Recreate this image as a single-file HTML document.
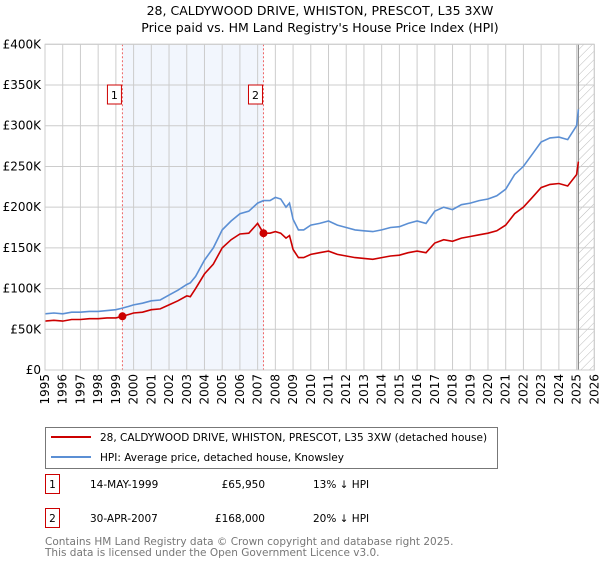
<!DOCTYPE html>
<html><head><meta charset="utf-8"><style>
body{margin:0;background:#fff;font-family:"DejaVu Sans","Liberation Sans",sans-serif;}
svg text{font-family:"DejaVu Sans","Liberation Sans",sans-serif;}
</style></head><body>
<svg id="c" width="600" height="560" viewBox="0 0 600 560" xmlns="http://www.w3.org/2000/svg">
<text x="320" y="15" font-size="12.5" text-anchor="middle" fill="#000">28, CALDYWOOD DRIVE, WHISTON, PRESCOT, L35 3XW</text>
<text x="320" y="32" font-size="12.5" text-anchor="middle" fill="#000">Price paid vs. HM Land Registry's House Price Index (HPI)</text>
<g id="plot"></g>
<g>
<rect x="45.5" y="427.5" width="452" height="41" fill="#fff" stroke="#777" stroke-width="1"/>
<line x1="51" y1="437" x2="91" y2="437" stroke="#cc0000" stroke-width="2"/>
<text x="100" y="441" font-size="10.5">28, CALDYWOOD DRIVE, WHISTON, PRESCOT, L35 3XW (detached house)</text>
<line x1="51" y1="457" x2="91" y2="457" stroke="#5b8fd4" stroke-width="2"/>
<text x="100" y="461" font-size="10.5">HPI: Average price, detached house, Knowsley</text>
</g>
<g font-size="10.5">
<rect x="45.5" y="474.5" width="14" height="19" fill="#fff" stroke="#cc0000"/>
<text x="52.5" y="488" text-anchor="middle">1</text>
<text x="90" y="488">14-MAY-1999</text>
<text x="265" y="488" text-anchor="end">£65,950</text>
<text x="313" y="488">13% ↓ HPI</text>
<rect x="45.5" y="508.5" width="14" height="19" fill="#fff" stroke="#cc0000"/>
<text x="52.5" y="522" text-anchor="middle">2</text>
<text x="90" y="522">30-APR-2007</text>
<text x="265" y="522" text-anchor="end">£168,000</text>
<text x="313" y="522">20% ↓ HPI</text>
</g>
<text x="45" y="545" font-size="10.5" fill="#777">Contains HM Land Registry data © Crown copyright and database right 2025.</text>
<text x="45" y="556" font-size="10.5" fill="#777">This data is licensed under the Open Government Licence v3.0.</text>
</svg>
<script>
const hpiYears=[1995,1995.5,1996,1996.5,1997,1997.5,1998,1998.5,1999,1999.37,1999.7,2000,2000.5,2001,2001.5,2002,2002.5,2003,2003.2,2003.5,2004,2004.5,2005,2005.5,2006,2006.5,2007,2007.33,2007.7,2008,2008.3,2008.6,2008.8,2009,2009.3,2009.6,2010,2010.5,2011,2011.5,2012,2012.5,2013,2013.5,2014,2014.5,2015,2015.5,2016,2016.5,2017,2017.5,2018,2018.5,2019,2019.5,2020,2020.5,2021,2021.5,2022,2022.5,2023,2023.5,2024,2024.5,2025,2025.1];
const hpiValues=[69,70,69,71,71,72,72,73,74,76,78,80,82,85,86,92,98,105,107,115,135,150,172,183,192,195,205,208,208,212,210,200,205,185,172,172,178,180,183,178,175,172,171,170,172,175,176,180,183,180,195,200,197,203,205,208,210,214,222,240,250,265,280,285,286,283,300,320];
const propValues=[60,61,60,62,62,63,63,64,64,65.95,68,70,71,74,75,80,85,91,90,100,118,130,150,160,167,168,180,168,168,170,168,162,165,148,138,138,142,144,146,142,140,138,137,136,138,140,141,144,146,144,156,160,158,162,164,166,168,171,178,192,200,212,224,228,229,226,240,256];
const sales=[{n:'1',year:1999.37,value:65.95},{n:'2',year:2007.33,value:168}];
const yTicks=[0,50,100,150,200,250,300,350,400];
const yLabels=['£0','£50K','£100K','£150K','£200K','£250K','£300K','£350K','£400K'];
const xYears=[];for(let y=1995;y<=2026;y++)xYears.push(y);
const X0=45,X1=594.3,Y0=370,Y1=44.3;
const xs=y=>X0+(y-1995)/(2026-1995)*(X1-X0);
const ys=v=>Y0-v/400*(Y0-Y1);
const NS='http://www.w3.org/2000/svg';
const g=document.getElementById('plot');
function mk(t,a){const e=document.createElementNS(NS,t);for(const k in a)e.setAttribute(k,a[k]);g.appendChild(e);return e;}
let sh=mk('rect',{x:xs(sales[0].year),y:Y1,width:xs(sales[1].year)-xs(sales[0].year),height:Y0-Y1,fill:'#f2f6fd'});


const defs=document.createElementNS(NS,'defs');defs.innerHTML='<pattern id="hatch" width="6" height="6" patternUnits="userSpaceOnUse" patternTransform="rotate(45)"><line x1="0" y1="0" x2="0" y2="6" stroke="#bbb" stroke-width="1"/></pattern>';g.appendChild(defs);
let ht=mk('rect',{x:xs(2025.1),y:Y1,width:X1-xs(2025.1),height:Y0-Y1,fill:'url(#hatch)'});


yTicks.forEach((v,i)=>{let l=mk('line',{x1:X0,x2:X1,y1:ys(v),y2:ys(v),stroke:'#cccccc'});


let t=mk('text',{x:X0-4,y:ys(v)+4,'font-size':12,'text-anchor':'end'});t.textContent=yLabels[i];

});
xYears.forEach(y=>{let l=mk('line',{x1:xs(y),x2:xs(y),y1:Y1,y2:Y0,stroke:'#cccccc'});


let t=mk('text',{x:0,y:0,'font-size':12,'text-anchor':'end',transform:`translate(${xs(y)+4},${Y0+4}) rotate(-90)`});t.textContent=y;

});
let dv=mk('line',{x1:xs(2025.1),x2:xs(2025.1),y1:Y1,y2:Y0,stroke:'#888','stroke-width':1.2});


sales.forEach(s=>{let l=mk('line',{x1:xs(s.year),x2:xs(s.year),y1:Y1,y2:Y0,stroke:'#ee6666','stroke-dasharray':'2,2'});

});
const pts=(vals)=>hpiYears.map((y,i)=>xs(y).toFixed(1)+','+ys(vals[i]).toFixed(1)).join(' ');
let hp=mk('polyline',{points:pts(hpiValues),fill:'none',stroke:'#5b8fd4','stroke-width':1.6});


let pp=mk('polyline',{points:pts(propValues),fill:'none',stroke:'#cc0000','stroke-width':1.6});


sales.forEach(s=>{let c=mk('circle',{cx:xs(s.year),cy:ys(s.value),r:4,fill:'#cc0000'});


let b=mk('rect',{x:xs(s.year)-15,y:85,width:14,height:19,fill:'#fff',stroke:'#cc0000'});


let t=mk('text',{x:xs(s.year)-8,y:99,'font-size':11,'text-anchor':'middle'});t.textContent=s.n;

});
let bd=mk('rect',{x:X0,y:Y1,width:X1-X0,height:Y0-Y1,fill:'none',stroke:'#cccccc'});


</script>
</body></html>
